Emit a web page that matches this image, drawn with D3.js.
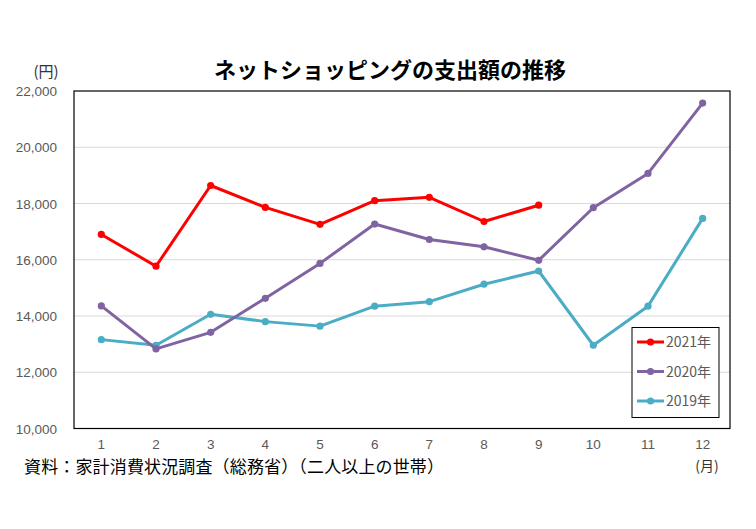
<!DOCTYPE html>
<html><head><meta charset="utf-8">
<script src="https://cdn.jsdelivr.net/npm/d3@7"></script>
<style>body{margin:0;background:#fff;}svg{display:block;font-family:"Noto Sans CJK JP","Noto Sans",sans-serif;}</style>
</head><body><svg id="c" width="756" height="529"></svg>
<script>
const months = [1,2,3,4,5,6,7,8,9,10,11,12];
const yTicks = [10000,12000,14000,16000,18000,20000,22000];
const s2021 = [16900,15770,18640,17860,17260,18100,18220,17360,17940];
const s2020 = [14360,12830,13420,14630,15870,17270,16720,16460,15980,17850,19070,21570];
const s2019 = [13160,12960,14060,13800,13640,14350,14510,15130,15600,12960,14350,17470];
const seriesNames = ["2021年","2020年","2019年"];
const seriesColors = ["#FF0000","#8064A2","#4BACC6"];
const seriesData = [s2021,s2020,s2019];

const svg = d3.select("#c");
const L=74,R=730,T=91,B=428.5;
const x = d3.scalePoint().domain(months).range([L,R]).padding(0.5);
const y = d3.scaleLinear().domain([10000,22000]).range([B,T]);

svg.append("text").attr("x",390).attr("y",78).attr("text-anchor","middle")
  .attr("font-size",22).attr("font-weight","bold").attr("fill","#000").text("ネットショッピングの支出額の推移");

// gridlines
svg.append("g").selectAll("line").data(yTicks.filter(d=>d>10000&&d<22000)).join("line")
  .attr("x1",L).attr("x2",R).attr("y1",d=>y(d)).attr("y2",d=>y(d))
  .attr("stroke","#D9D9D9").attr("stroke-width",1);

// y labels
svg.append("g").selectAll("text").data(yTicks).join("text")
  .attr("x",57).attr("y",d=>y(d)+5).attr("text-anchor","end")
  .attr("font-size",13.5).attr("fill","#595959").attr("font-family","Liberation Sans, Arial, sans-serif")
  .text(d=>d3.format(",")(d));
svg.append("text").attr("x",46).attr("y",77).attr("text-anchor","middle").attr("font-size",15).attr("fill","#333").text("(円)");

// x labels
svg.append("g").selectAll("text").data(months).join("text")
  .attr("x",d=>x(d)).attr("y",449).attr("text-anchor","middle")
  .attr("font-size",13.5).attr("fill","#595959").attr("font-family","Liberation Sans, Arial, sans-serif")
  .text(d=>d);
svg.append("text").attr("x",707).attr("y",471).attr("text-anchor","middle").attr("font-size",14).attr("fill","#333").text("(月)");

// plot border
svg.append("rect").attr("x",L).attr("y",T).attr("width",R-L).attr("height",B-T)
  .attr("fill","none").attr("stroke","#000").attr("stroke-width",1.2);

// series
const line = d3.line().x((d,i)=>x(months[i])).y(d=>y(d));
[2,1,0].forEach(k=>{
  const g = svg.append("g");
  g.append("path").datum(seriesData[k]).attr("d",line).attr("fill","none")
    .attr("stroke",seriesColors[k]).attr("stroke-width",3).attr("stroke-linejoin","round");
  g.selectAll("circle").data(seriesData[k]).join("circle")
    .attr("cx",(d,i)=>x(months[i])).attr("cy",d=>y(d)).attr("r",3.6).attr("fill",seriesColors[k]);
});

// legend
const lg = svg.append("g");
lg.append("rect").attr("x",632).attr("y",327.5).attr("width",87).attr("height",90)
  .attr("fill","#fff").attr("stroke","#000").attr("stroke-width",1);
seriesNames.forEach((n,i)=>{
  const yy = 342+i*29.5;
  lg.append("line").attr("x1",637).attr("x2",664).attr("y1",yy).attr("y2",yy).attr("stroke",seriesColors[i]).attr("stroke-width",3);
  lg.append("circle").attr("cx",650.5).attr("cy",yy).attr("r",3.6).attr("fill",seriesColors[i]);
  lg.append("text").attr("x",666).attr("y",yy+5).attr("font-size",14).attr("fill","#595959").text(n);
});

svg.append("text").attr("x",24).attr("y",473).attr("font-size",17).attr("fill","#000")
  .attr("textLength",420).attr("lengthAdjust","spacing")
  .text("資料：家計消費状況調査（総務省）（二人以上の世帯）");
</script></body></html>
